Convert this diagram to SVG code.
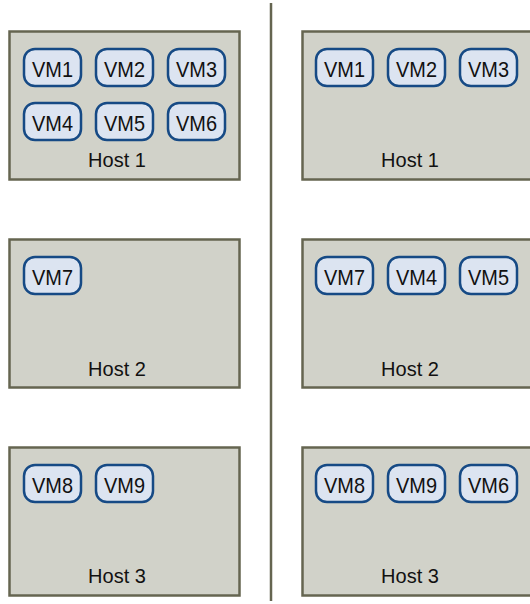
<svg xmlns="http://www.w3.org/2000/svg" width="530" height="604" viewBox="0 0 530 604">
<style>
.host{fill:#d1d2c9;stroke:#656550;stroke-width:2.5}
.vm{fill:#dce4f1;stroke:#164a85;stroke-width:2.5}
text{font-family:"Liberation Sans",Arial,sans-serif;font-size:20px;fill:#111;text-anchor:middle}
.v{font-size:22.5px}
</style>
<rect width="530" height="604" fill="#fff"/>
<g id="connectors">
<line x1="271" y1="3" x2="271" y2="601" stroke="#656550" stroke-width="2.5"/>
</g>
<g id="L-host1"><rect class="host" x="9.5" y="31.5" width="230" height="148"/><text x="117" y="167">Host 1</text></g>
<g id="L-host1-vm1"><rect class="vm" x="24" y="49" width="57" height="37" rx="11"/><text class="v" x="52.5" y="76.5" textLength="41" lengthAdjust="spacingAndGlyphs">VM1</text></g>
<g id="L-host1-vm2"><rect class="vm" x="96" y="49" width="57" height="37" rx="11"/><text class="v" x="124.5" y="76.5" textLength="41" lengthAdjust="spacingAndGlyphs">VM2</text></g>
<g id="L-host1-vm3"><rect class="vm" x="168" y="49" width="57" height="37" rx="11"/><text class="v" x="196.5" y="76.5" textLength="41" lengthAdjust="spacingAndGlyphs">VM3</text></g>
<g id="L-host1-vm4"><rect class="vm" x="24" y="103" width="57" height="37" rx="11"/><text class="v" x="52.5" y="130.5" textLength="41" lengthAdjust="spacingAndGlyphs">VM4</text></g>
<g id="L-host1-vm5"><rect class="vm" x="96" y="103" width="57" height="37" rx="11"/><text class="v" x="124.5" y="130.5" textLength="41" lengthAdjust="spacingAndGlyphs">VM5</text></g>
<g id="L-host1-vm6"><rect class="vm" x="168" y="103" width="57" height="37" rx="11"/><text class="v" x="196.5" y="130.5" textLength="41" lengthAdjust="spacingAndGlyphs">VM6</text></g>

<g id="L-host2"><rect class="host" x="9.5" y="239.5" width="230" height="148"/><text x="117" y="376">Host 2</text></g>
<g id="L-host2-vm7"><rect class="vm" x="24" y="257" width="57" height="37" rx="11"/><text class="v" x="52.5" y="284.5" textLength="41" lengthAdjust="spacingAndGlyphs">VM7</text></g>

<g id="L-host3"><rect class="host" x="9.5" y="447.5" width="230" height="148"/><text x="117" y="583">Host 3</text></g>
<g id="L-host3-vm8"><rect class="vm" x="24" y="465" width="57" height="37" rx="11"/><text class="v" x="52.5" y="492.5" textLength="41" lengthAdjust="spacingAndGlyphs">VM8</text></g>
<g id="L-host3-vm9"><rect class="vm" x="96" y="465" width="57" height="37" rx="11"/><text class="v" x="124.5" y="492.5" textLength="41" lengthAdjust="spacingAndGlyphs">VM9</text></g>

<g id="R-host1"><rect class="host" x="302.5" y="31.5" width="230" height="148"/><text x="410" y="167">Host 1</text></g>
<g id="R-host1-vm1"><rect class="vm" x="316" y="49" width="57" height="37" rx="11"/><text class="v" x="344.5" y="76.5" textLength="41" lengthAdjust="spacingAndGlyphs">VM1</text></g>
<g id="R-host1-vm2"><rect class="vm" x="388" y="49" width="57" height="37" rx="11"/><text class="v" x="416.5" y="76.5" textLength="41" lengthAdjust="spacingAndGlyphs">VM2</text></g>
<g id="R-host1-vm3"><rect class="vm" x="460" y="49" width="57" height="37" rx="11"/><text class="v" x="488.5" y="76.5" textLength="41" lengthAdjust="spacingAndGlyphs">VM3</text></g>

<g id="R-host2"><rect class="host" x="302.5" y="239.5" width="230" height="148"/><text x="410" y="376">Host 2</text></g>
<g id="R-host2-vm7"><rect class="vm" x="316" y="257" width="57" height="37" rx="11"/><text class="v" x="344.5" y="284.5" textLength="41" lengthAdjust="spacingAndGlyphs">VM7</text></g>
<g id="R-host2-vm4"><rect class="vm" x="388" y="257" width="57" height="37" rx="11"/><text class="v" x="416.5" y="284.5" textLength="41" lengthAdjust="spacingAndGlyphs">VM4</text></g>
<g id="R-host2-vm5"><rect class="vm" x="460" y="257" width="57" height="37" rx="11"/><text class="v" x="488.5" y="284.5" textLength="41" lengthAdjust="spacingAndGlyphs">VM5</text></g>

<g id="R-host3"><rect class="host" x="302.5" y="447.5" width="230" height="148"/><text x="410" y="583">Host 3</text></g>
<g id="R-host3-vm8"><rect class="vm" x="316" y="465" width="57" height="37" rx="11"/><text class="v" x="344.5" y="492.5" textLength="41" lengthAdjust="spacingAndGlyphs">VM8</text></g>
<g id="R-host3-vm9"><rect class="vm" x="388" y="465" width="57" height="37" rx="11"/><text class="v" x="416.5" y="492.5" textLength="41" lengthAdjust="spacingAndGlyphs">VM9</text></g>
<g id="R-host3-vm6"><rect class="vm" x="460" y="465" width="57" height="37" rx="11"/><text class="v" x="488.5" y="492.5" textLength="41" lengthAdjust="spacingAndGlyphs">VM6</text></g>
</svg>
